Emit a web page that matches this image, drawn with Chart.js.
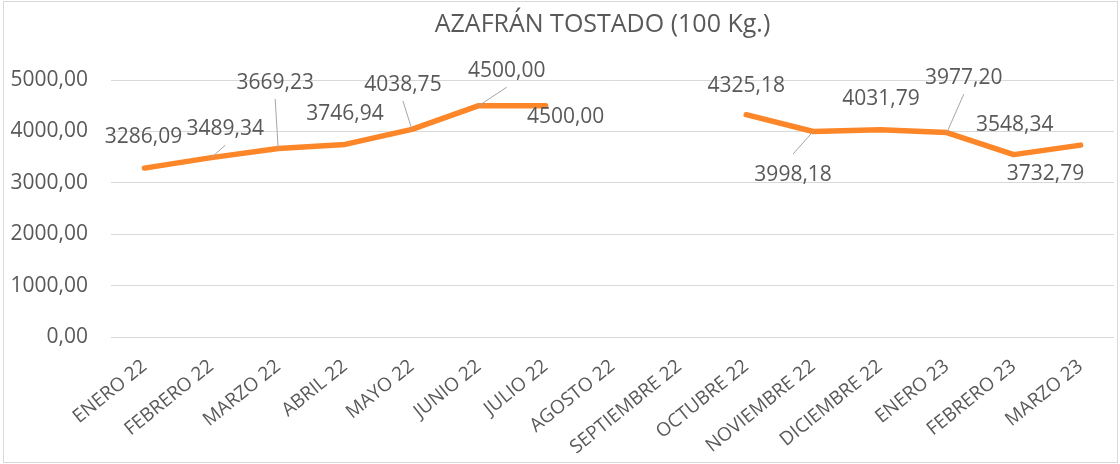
<!DOCTYPE html>
<html>
<head>
<meta charset="utf-8">
<script src="https://cdn.jsdelivr.net/npm/chart.js@4/dist/chart.umd.min.js"></script>
<style>
  body { margin: 0; background: #fff; }
</style>
</head>
<body>
<canvas id="chart" width="1120" height="464"></canvas>
<script>
// Data
const chartTitle = 'AZAFRÁN TOSTADO (100 Kg.)';
const months = ['ENERO 22', 'FEBRERO 22', 'MARZO 22', 'ABRIL 22', 'MAYO 22', 'JUNIO 22', 'JULIO 22',
    'AGOSTO 22', 'SEPTIEMBRE 22', 'OCTUBRE 22', 'NOVIEMBRE 22', 'DICIEMBRE 22', 'ENERO 23', 'FEBRERO 23', 'MARZO 23'];
const prices = [3286.09, 3489.34, 3669.23, 3746.94, 4038.75, 4500.00, 4500.00,
    null, null, 4325.18, 3998.18, 4031.79, 3977.20, 3548.34, 3732.79];
const yTicks = [0, 1000, 2000, 3000, 4000, 5000];

// where each data label sits relative to its point (px), and whether it has a leader line
const labelShift = [[-1, -33], [14, -30], [-3, -67], [0, -32], [-9, -46], [28, -36], [20, 10],
    null, null, [0, -30], [-20, 42], [1, -32], [17, -56], [1, -31], [-35, 27]];
const hasLeader = [false, true, true, false, true, true, false, false, false, false, true, false, true, false, false];

const TEXT = '#595959';
const GRID = '#d9d9d9';
const FONT = "'Open Sans', sans-serif";

function fmt(v) {
    return v.toFixed(2).replace('.', ',');
}

// Background, frame and title
const frame = {
    id: 'frame',
    beforeDraw(chart) {
        const ctx = chart.ctx;
        ctx.save();
        ctx.fillStyle = '#fff';
        ctx.fillRect(0, 0, chart.width, chart.height);
        ctx.strokeStyle = GRID;
        ctx.lineWidth = 1;
        ctx.strokeRect(3.5, 1.5, 1114, 461);
        const area = chart.chartArea;
        ctx.fillStyle = TEXT;
        ctx.font = '25px ' + FONT;
        ctx.textAlign = 'center';
        ctx.textBaseline = 'alphabetic';
        ctx.fillText(chartTitle, (area.left + area.right) / 2 - 10, 32);
        ctx.restore();
    }
};

// Data labels with leader lines
const valueLabels = {
    id: 'valueLabels',
    afterDatasetsDraw(chart) {
        const ctx = chart.ctx;
        const meta = chart.getDatasetMeta(0);
        ctx.save();
        ctx.font = '21px ' + FONT;
        ctx.textAlign = 'center';
        ctx.textBaseline = 'alphabetic';
        meta.data.forEach((pt, i) => {
            const v = prices[i];
            if (v === null || !labelShift[i]) return;
            const cx = pt.x + labelShift[i][0];
            const cy = pt.y + labelShift[i][1];
            if (hasLeader[i]) {
                const sy = labelShift[i][1] < 0 ? cy + 17.5 : cy - 19.5;
                ctx.strokeStyle = '#a6a6a6';
                ctx.lineWidth = 1;
                ctx.beginPath();
                ctx.moveTo(cx, sy);
                ctx.lineTo(pt.x, pt.y);
                ctx.stroke();
            }
            ctx.fillStyle = TEXT;
            ctx.fillText(fmt(v), cx, cy + 7.5);
        });
        ctx.restore();
    }
};

const ctx = document.getElementById('chart').getContext('2d');
const priceChart = new Chart(ctx, {
    type: 'line',
    data: {
        labels: months,
        datasets: [{
            label: chartTitle,
            data: prices,
            borderColor: '#fd8628',
            borderWidth: 5.5,
            borderCapStyle: 'round',
            borderJoinStyle: 'round',
            pointRadius: 0,
            tension: 0,
            spanGaps: false,
            fill: false
        }]
    },
    options: {
        responsive: false,
        animation: false,
        layout: {
            padding: { top: 80, left: 0, right: 6, bottom: 0 }
        },
        plugins: {
            legend: { display: false },
            title: { display: false },
            tooltip: { enabled: false }
        },
        scales: {
            x: {
                offset: true,
                grid: { display: false, drawTicks: false },
                border: { display: false },
                afterFit(axis) {
                    // keep the plot where the original has it
                    axis.paddingLeft = 0;
                    axis.paddingRight = 0;
                    axis.height = 127;
                },
                ticks: {
                    color: TEXT,
                    font: { family: FONT, size: 19 },
                    minRotation: 39,
                    maxRotation: 39,
                    autoSkip: false,
                    padding: 18
                }
            },
            y: {
                min: 0,
                max: 5000,
                afterBuildTicks(axis) {
                    axis.ticks = yTicks.map(v => ({ value: v }));
                },
                afterFit(axis) {
                    axis.width = 111;
                },
                grid: { color: GRID, lineWidth: 1, drawTicks: false },
                border: { display: false },
                ticks: {
                    color: TEXT,
                    font: { family: FONT, size: 21 },
                    padding: 23,
                    callback: v => fmt(v)
                }
            }
        }
    },
    plugins: [frame, valueLabels]
});
</script>
</body>
</html>
